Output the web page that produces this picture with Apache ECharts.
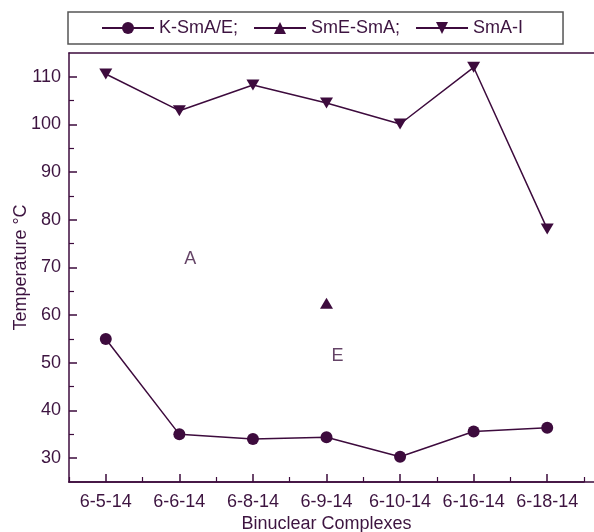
<!DOCTYPE html>
<html><head><meta charset="utf-8">
<script src="https://cdn.jsdelivr.net/npm/echarts@6/dist/echarts.min.js"></script>
<style>html,body{margin:0;padding:0;background:#fff}#c{width:594px;height:532px}</style>
</head><body><div id="c"></div>
<script>
const categories = ['6-5-14','6-6-14','6-8-14','6-9-14','6-10-14','6-16-14','6-18-14'];
const kSmAE = [55.0, 35.0, 34.0, 34.4, 30.3, 35.6, 36.4];
const smESmA = [null, null, null, 62.5, null, null, null];
const smAI = [110.6, 102.9, 108.3, 104.5, 100.1, 112.0, 78.1];
const yMajorTicks = [30, 40, 50, 60, 70, 80, 90, 100, 110];
const yMinorTicks = [35, 45, 55, 65, 75, 85, 95, 105];
const annotations = [{text: 'A', cat: '6-6-14', value: 71.7}, {text: 'E', cat: '6-9-14', value: 51.4}];

const C = '#3d0b3d';
const TXT = '#3d1440';
const font = 'Liberation Sans, Arial, sans-serif';
const chart = echarts.init(document.getElementById('c'), null, {renderer: 'canvas'});
const g0 = {left: 69, right: 10, top: 53, bottom: 50, containLabel: false, outerBoundsMode: 'none'};
const g1 = {left: 69, right: 0, top: 53, bottom: 50, containLabel: false, outerBoundsMode: 'none'};
chart.setOption({
  animation: false,
  textStyle: {fontFamily: font},
  legend: {
    data: ['K-SmA/E;', 'SmE-SmA;', 'SmA-I'],
    left: 68, top: 12,
    padding: [7, 40, 7, 33],
    itemGap: 15,
    itemWidth: 52, itemHeight: 15,
    borderColor: '#555', borderWidth: 1.5,
    textStyle: {color: TXT, fontSize: 18, fontFamily: font}
  },
  grid: [g0, g1],
  xAxis: [
    {type: 'category', data: categories, gridIndex: 0, position: 'bottom', boundaryGap: true,
     name: 'Binuclear Complexes', nameLocation: 'middle', nameGap: 33, nameMoveOverlap: false,
     nameTextStyle: {color: TXT, fontSize: 18, fontFamily: font},
     axisLine: {show: true, lineStyle: {color: C, width: 1.5}},
     axisTick: {show: true, inside: true, length: 8, alignWithLabel: true, lineStyle: {color: C, width: 1.5}},
     axisLabel: {color: TXT, fontSize: 18, margin: 11, fontFamily: font, interval: 0},
     splitLine: {show: false}},
    {type: 'category', data: categories, gridIndex: 0, position: 'bottom', boundaryGap: true,
     axisLine: {show: false},
     axisTick: {show: true, inside: true, length: 5, alignWithLabel: false, interval: 0, lineStyle: {color: C, width: 1.2}},
     axisLabel: {show: false}, splitLine: {show: false}},
    {type: 'value', gridIndex: 1, position: 'top',
     axisLine: {show: true, onZero: false, lineStyle: {color: C, width: 1.5}},
     axisTick: {show: false}, axisLabel: {show: false}, splitLine: {show: false}},
    {type: 'value', gridIndex: 1, position: 'bottom',
     axisLine: {show: true, onZero: false, lineStyle: {color: C, width: 1.5}},
     axisTick: {show: false}, axisLabel: {show: false}, splitLine: {show: false}}
  ],
  yAxis: [
    {type: 'value', gridIndex: 0, min: 25, max: 115, position: 'left',
     name: 'Temperature °C', nameLocation: 'middle', nameGap: 39, nameRotate: 90, nameMoveOverlap: false,
     nameTextStyle: {color: TXT, fontSize: 18, fontFamily: font},
     axisLine: {show: true, onZero: false, lineStyle: {color: C, width: 1.5}},
     axisTick: {show: true, inside: true, length: 8, customValues: yMajorTicks, lineStyle: {color: C, width: 1.5}},
     axisLabel: {color: TXT, fontSize: 18, margin: 8, customValues: yMajorTicks, fontFamily: font},
     splitLine: {show: false}},
    {type: 'value', gridIndex: 0, min: 25, max: 115, position: 'left',
     axisLine: {show: false},
     axisTick: {show: true, inside: true, length: 5, customValues: yMinorTicks, lineStyle: {color: C, width: 1.2}},
     axisLabel: {show: false}, splitLine: {show: false}},
    {type: 'value', gridIndex: 1, show: false}
  ],
  series: [
    {name: 'K-SmA/E;', type: 'line', xAxisIndex: 0, yAxisIndex: 0, data: kSmAE,
     symbol: 'circle', symbolSize: 12, itemStyle: {color: C}, lineStyle: {color: C, width: 1.5}},
    {name: 'SmE-SmA;', type: 'line', xAxisIndex: 0, yAxisIndex: 0, data: smESmA,
     symbol: 'triangle', symbolSize: [13, 11], itemStyle: {color: C}, lineStyle: {color: C, width: 1.5}},
    {name: 'SmA-I', type: 'line', xAxisIndex: 0, yAxisIndex: 0, data: smAI,
     symbol: 'triangle', symbolRotate: 180, symbolSize: [13, 11], itemStyle: {color: C}, lineStyle: {color: C, width: 1.5}},
    {name: 'labels', type: 'scatter', xAxisIndex: 0, yAxisIndex: 0,
     data: annotations.map(a => ({value: [a.cat, a.value], name: a.text})),
     symbolSize: 0, silent: true,
     label: {show: true, formatter: p => p.name, position: 'inside', offset: [11, 0],
             color: TXT, fontSize: 18, fontFamily: font}}
  ]
});
</script></body></html>
